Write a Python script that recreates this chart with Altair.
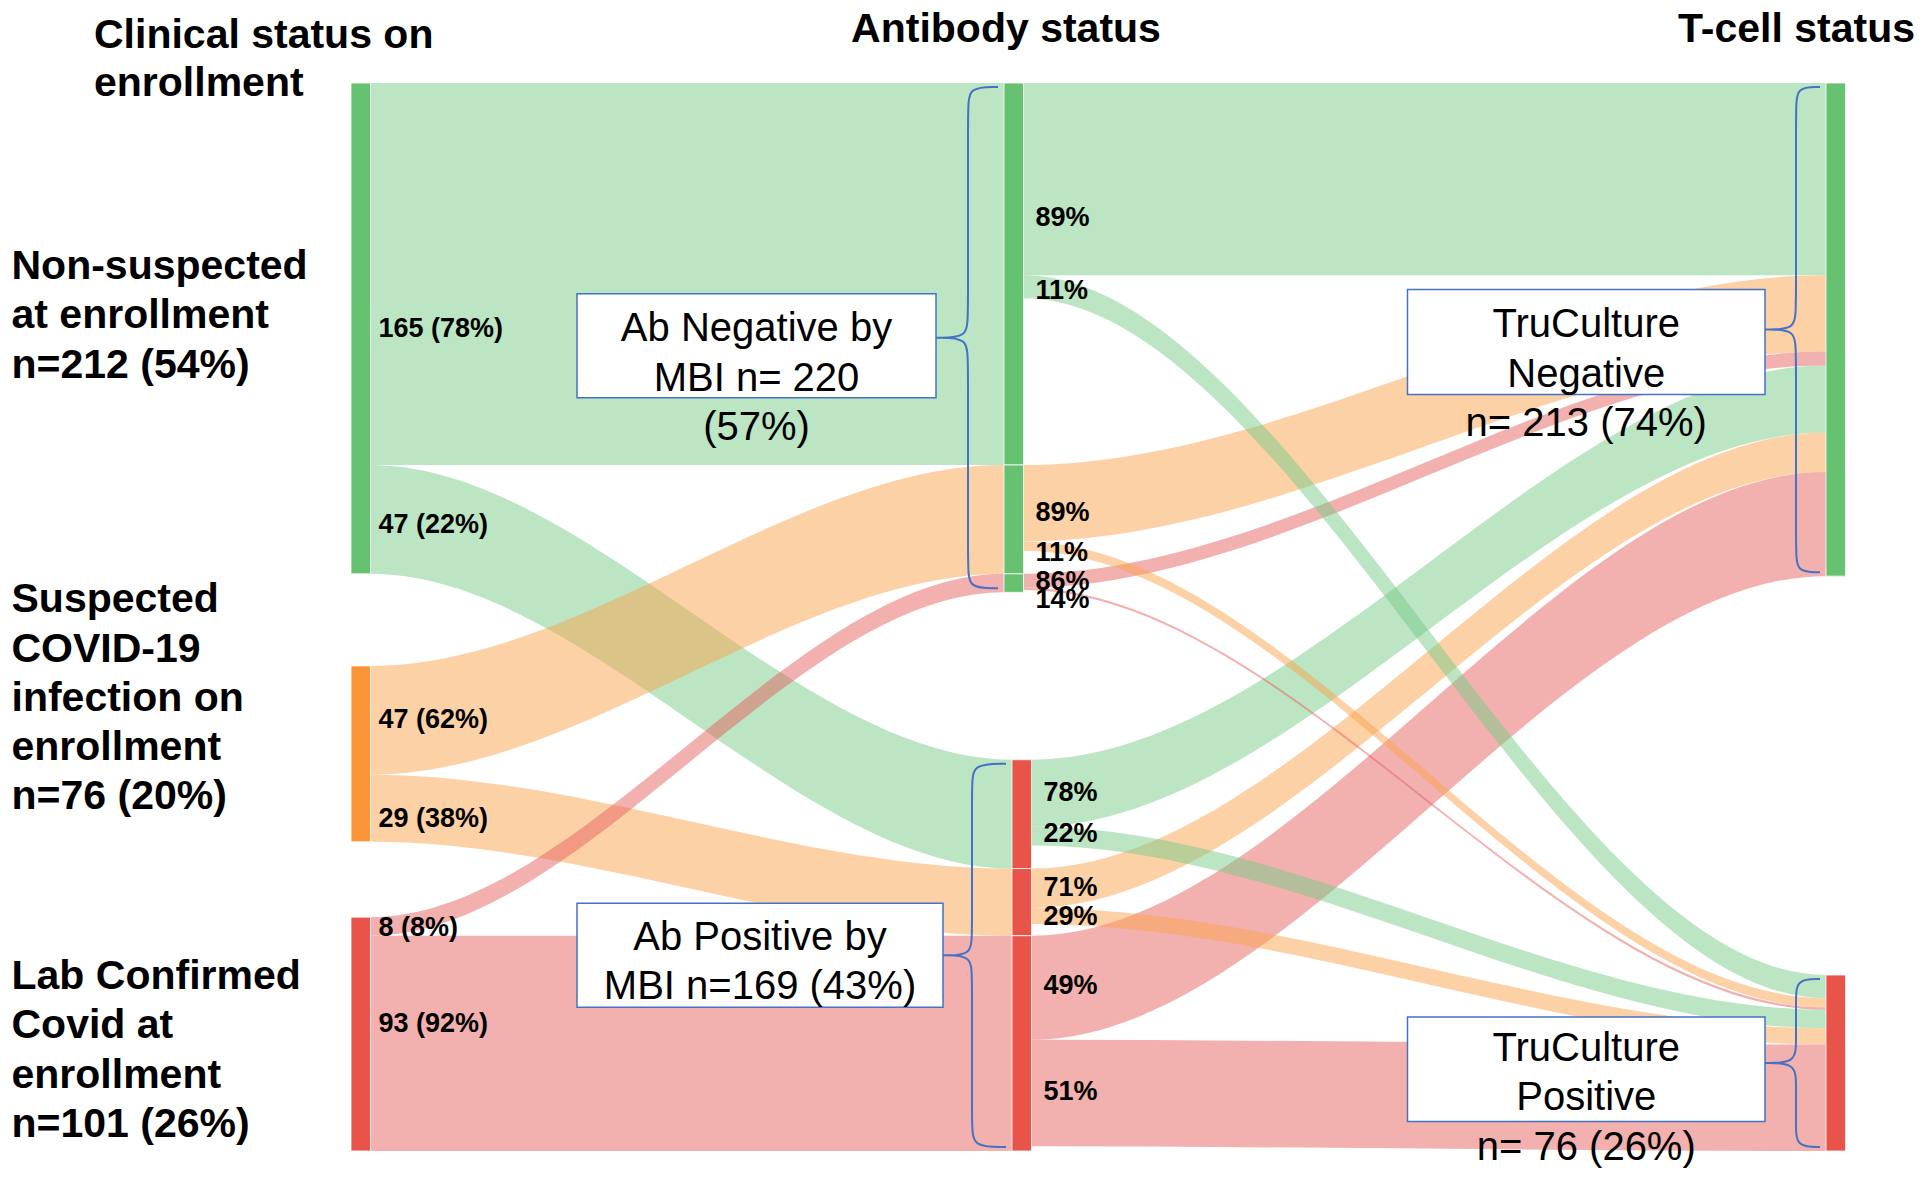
import altair as alt
import pandas as pd

# ---------------- values ----------------
clinical_names = [
    ["Non-suspected", "at enrollment"],
    ["Suspected", "COVID-19", "infection on", "enrollment"],
    ["Lab Confirmed", "Covid at", "enrollment"],
]
clinical_n = [212, 76, 101]          # participants per clinical group
ab_negative = [165, 47, 8]           # antibody negative, per clinical group
ab_positive = [47, 29, 93]           # antibody positive, per clinical group
tc_neg_of_abneg = [83, 33, 6]        # TruCulture negative among Ab negative
tc_pos_of_abneg = [10, 4, 1]         # TruCulture positive among Ab negative
tc_neg_of_abpos = [29, 17, 45]       # TruCulture negative among Ab positive
tc_pos_of_abpos = [8, 7, 46]         # TruCulture positive among Ab positive
column_titles = [["Clinical status on", "enrollment"], ["Antibody status"], ["T-cell status"]]
ab_box_text = [["Ab Negative by", "MBI n= {n}", "({p}%)"], ["Ab Positive by", "MBI n={n} ({p}%)"]]
tc_box_text = [["TruCulture", "Negative", "n= {n} ({p}%)"], ["TruCulture", "Positive", "n= {n} ({p}%)"]]

node_colors = ["#66C271", "#FC9538", "#E8534A"]
flow_colors = ["#77CB87", "#FBA34D", "#E5615D"]
BLUE = "#4472C4"
FONT = "Liberation Sans"

# ---------------- layout (pixels of the plot area) ----------------
PAD_TOP = 8
W, H = 1907, 1153
PXU = 2.3152           # pixels per participant
Y0 = 67.0              # pixel row of the first participant
SPAN = 461.3           # participants + gaps, per column
BAR = 19.5
X_LEFT, X_ABNEG, X_ABPOS, X_RIGHT = 343.0, 996.0, 1004.0, 1818.0
LEFT_GAP_SHARE = [0.55, 0.45]
LEFT_LABEL_NUDGE = [55, 6, 0, 11, 2, -19]
MID_LABEL_NUDGE = [39, 4, 10, 7, 1, 11, 0, -2, 0, 1, -2, -1]
CAT_TEXT_SHIFT = [0, -43, 29]
CAT_LH = 49.3
BOX_LH = 49.5
TITLE_BASE = [32, 80, 25.5]
# box left, box right, box top / bottom offsets, text baseline offset, brace spine x
BOXES = [
    (569, 928, -44, 60, 53, 960),
    (569, 935, -52, 52, 19, 964),
    (1399.5, 1757, -40, 65, 57, 1788),
    (1399.5, 1757, -46, 58.5, 47, 1788),
]


def U(p):
    return (p - Y0) / PXU


def P(u):
    return Y0 + u * PXU


def pct(a, b):
    return round(100 * a / b)


N = sum(clinical_n)
spare = SPAN - N
left_top = []
acc = 0.0
for i, n in enumerate(clinical_n):
    left_top.append(acc)
    acc += n + (spare * LEFT_GAP_SHARE[i] if i < 2 else 0)

ab_tot = [sum(ab_negative), sum(ab_positive)]
mid_top = [0.0, SPAN - ab_tot[1]]
tc_tot = [sum(tc_neg_of_abneg) + sum(tc_neg_of_abpos), sum(tc_pos_of_abneg) + sum(tc_pos_of_abpos)]
right_top = [0.0, SPAN - tc_tot[1]]
neg_off = [mid_top[0] + sum(ab_negative[:i]) for i in range(3)]
pos_off = [mid_top[1] + sum(ab_positive[:i]) for i in range(3)]

# ---------------- nodes ----------------
node_rows = []
for i in range(3):
    node_rows.append(dict(x=X_LEFT, x2=X_LEFT + BAR, y=left_top[i], y2=left_top[i] + clinical_n[i], color=node_colors[i]))
    node_rows.append(dict(x=X_ABNEG, x2=X_ABNEG + BAR, y=neg_off[i], y2=neg_off[i] + ab_negative[i], color=node_colors[0]))
    node_rows.append(dict(x=X_ABPOS, x2=X_ABPOS + BAR, y=pos_off[i], y2=pos_off[i] + ab_positive[i], color=node_colors[2]))
node_rows.append(dict(x=X_RIGHT, x2=X_RIGHT + BAR, y=right_top[0], y2=right_top[0] + tc_tot[0], color=node_colors[0]))
node_rows.append(dict(x=X_RIGHT, x2=X_RIGHT + BAR, y=right_top[1], y2=right_top[1] + tc_tot[1], color=node_colors[2]))
nodes_df = pd.DataFrame(node_rows)

# ---------------- flows ----------------
flow_rows = []
counter = [0]


def add_flow(xa, xb, xc, xd, ys, yt, w, color):
    fid = f"f{counter[0]:02d}"
    for x, y in ((xa, ys), (xb, ys), (xc, yt), (xd, yt)):
        flow_rows.append(dict(fid=fid, x=x, y=y, y2=y + w, color=color))
    counter[0] += 1


label_rows = []
k = 0
for i in range(3):
    add_flow(X_LEFT, X_LEFT + BAR, X_ABNEG, X_ABNEG + BAR, left_top[i], neg_off[i], ab_negative[i], flow_colors[i])
    add_flow(X_LEFT, X_LEFT + BAR, X_ABPOS, X_ABPOS + BAR, left_top[i] + ab_negative[i], pos_off[i], ab_positive[i], flow_colors[i])
    for start, n in ((left_top[i], ab_negative[i]), (left_top[i] + ab_negative[i], ab_positive[i])):
        label_rows.append(dict(x=X_LEFT + BAR + 8, y=start + n / 2 + LEFT_LABEL_NUDGE[k] / PXU,
                               text=f"{n} ({pct(n, clinical_n[i])}%)"))
        k += 1

segs = [(X_ABNEG, neg_off[i], tc_neg_of_abneg[i], tc_pos_of_abneg[i], i) for i in range(3)] + \
       [(X_ABPOS, pos_off[i], tc_neg_of_abpos[i], tc_pos_of_abpos[i], i) for i in range(3)]
ty_neg, ty_pos = right_top[0], right_top[1]
neg_list, pos_list = [], []
k = 0
for (xa, s, nn, pp, i) in segs:
    neg_list.append((xa, s, ty_neg, nn, i))
    pos_list.append((xa, s + nn, ty_pos, pp, i))
    ty_neg += nn
    ty_pos += pp
    for start, n in ((s, nn), (s + nn, pp)):
        label_rows.append(dict(x=xa + BAR + 12, y=start + n / 2 + MID_LABEL_NUDGE[k] / PXU,
                               text=f"{pct(n, nn + pp)}%"))
        k += 1
for (xa, s, t, w, i) in neg_list + pos_list:
    add_flow(xa, xa + BAR, X_RIGHT, X_RIGHT + BAR, s, t, w, flow_colors[i])

flows_df = pd.DataFrame(flow_rows)
labels_df = pd.DataFrame(label_rows)

# ---------------- braces, boxes and their texts ----------------
braced = [
    (mid_top[0], ab_tot[0], X_ABNEG, ab_box_text[0], ab_tot[0], N),
    (mid_top[1], ab_tot[1], X_ABPOS, ab_box_text[1], ab_tot[1], N),
    (right_top[0], tc_tot[0], X_RIGHT, tc_box_text[0], tc_tot[0], sum(tc_tot)),
    (right_top[1], tc_tot[1], X_RIGHT, tc_box_text[1], tc_tot[1], sum(tc_tot)),
]
brace_rows, box_rows, box_text_rows = [], [], []
for b, ((top, n, bar_x, lines, cnt, tot), (bl, br, bt, bb, tb, spine)) in enumerate(zip(braced, BOXES)):
    top_px = P(top) + 4
    bot_px = P(top + n) - 4
    tip_px = P(top + n / 2)
    end = bar_x - 6
    r = 11
    pts = [(end, top_px), (spine, top_px), (spine, top_px + 2 * r), (spine, tip_px - 2 * r), (spine, tip_px),
           (br, tip_px), (br, tip_px), (br, tip_px), (spine, tip_px), (spine, tip_px + 2 * r),
           (spine, bot_px - 2 * r), (spine, bot_px), (end, bot_px)]
    for j, (x, y) in enumerate(pts):
        brace_rows.append(dict(bid=f"b{b}", k=j, x=x, y=U(y)))
    box_rows.append(dict(x=bl, x2=br, y=U(tip_px + bt), y2=U(tip_px + bb)))
    nl = len(lines)
    for j, line in enumerate(lines):
        base = tip_px + tb + (j - (nl - 1) / 2) * BOX_LH
        box_text_rows.append(dict(x=(bl + br) / 2, y=U(base), text=line.format(n=cnt, p=pct(cnt, tot))))
braces_df = pd.DataFrame(brace_rows)
boxes_df = pd.DataFrame(box_rows)
box_text_df = pd.DataFrame(box_text_rows)

# ---------------- category and column texts ----------------
cat_rows = []
for i in range(3):
    lines = clinical_names[i] + [f"n={clinical_n[i]} ({pct(clinical_n[i], N)}%)"]
    center = P(left_top[i] + clinical_n[i] / 2) + CAT_TEXT_SHIFT[i]
    nl = len(lines)
    for j, line in enumerate(lines):
        cat_rows.append(dict(x=3.5, y=U(center + (j - (nl - 1) / 2) * CAT_LH), text=line))
cat_rows.append(dict(x=86, y=U(TITLE_BASE[0]), text=column_titles[0][0]))
cat_rows.append(dict(x=86, y=U(TITLE_BASE[1]), text=column_titles[0][1]))
cat_df = pd.DataFrame(cat_rows)
mid_title_df = pd.DataFrame([dict(x=998, y=U(TITLE_BASE[2]), text=column_titles[1][0])])
right_title_df = pd.DataFrame([dict(x=W, y=U(TITLE_BASE[2]), text=column_titles[2][0])])

# ---------------- chart ----------------
XS = alt.Scale(domain=[0, W], nice=False, zero=False)
YS = alt.Scale(domain=[U(0), U(H)], reverse=True, nice=False, zero=False)


def X(f="x"):
    return alt.X(f"{f}:Q", scale=XS, axis=None)


def Y(f="y"):
    return alt.Y(f"{f}:Q", scale=YS, axis=None)


flows = alt.Chart(flows_df).mark_area(interpolate="monotone", opacity=0.5).encode(
    x=X(), y=alt.Y("y:Q", scale=YS, axis=None, stack=None), y2="y2:Q",
    detail="fid:N", color=alt.Color("color:N", scale=None),
)
nodes = alt.Chart(nodes_df).mark_rect(stroke="white", strokeWidth=0.8).encode(
    x=X(), x2="x2:Q", y=Y(), y2="y2:Q", color=alt.Color("color:N", scale=None),
)
braces = alt.Chart(braces_df).mark_line(interpolate="basis", color=BLUE, strokeWidth=2).encode(
    x=X(), y=Y(), detail="bid:N", order="k:Q",
)
boxes = alt.Chart(boxes_df).mark_rect(fill="white", stroke=BLUE, strokeWidth=1.5).encode(
    x=X(), x2="x2:Q", y=Y(), y2="y2:Q",
)


def texts(df, size, weight, align, baseline="alphabetic"):
    return alt.Chart(df).mark_text(font=FONT, fontSize=size, fontWeight=weight, align=align,
                                   baseline=baseline, color="black").encode(x=X(), y=Y(), text="text:N")


chart = alt.layer(
    flows, nodes, braces, boxes,
    texts(box_text_df, 40, "normal", "center"),
    texts(labels_df, 27, "bold", "left", "middle"),
    texts(cat_df, 41, "bold", "left"),
    texts(mid_title_df, 41, "bold", "center"),
    texts(right_title_df, 41, "bold", "right"),
).properties(
    width=W, height=H, autosize=alt.AutoSizeParams(type="none"),
    padding={"top": PAD_TOP, "left": 0, "right": 0, "bottom": 0}, background="white",
).configure_view(stroke=None)

chart.save("out.html", embed_options={"renderer": "svg", "actions": False})
